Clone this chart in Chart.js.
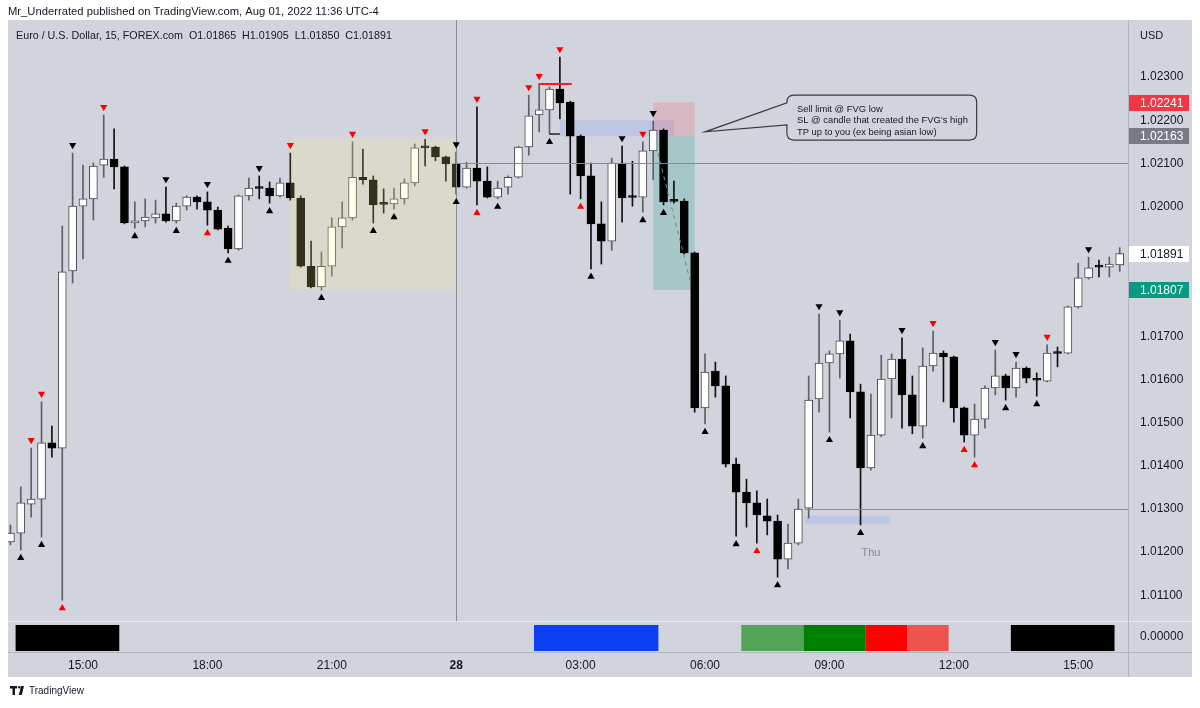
<!DOCTYPE html>
<html><head><meta charset="utf-8">
<script src="https://cdn.jsdelivr.net/npm/chart.js@4.4.0/dist/chart.umd.min.js"></script>
<style>html,body{margin:0;padding:0;background:#fff;}canvas{display:block;}</style>
</head><body>
<canvas id="c" width="1200" height="708"></canvas>
<script>
// ---------- DATA (EUR/USD, 15 min) ----------
const candleIndex = Array.from({length:108},(_, k)=>k); // 13:15 day 1 ... 16:00 day 2
const opens = [1.01224,1.01244,1.01311,1.01323,1.01453,1.01441,1.01851,1.02001,1.02018,1.02096,
1.02110,1.02092,1.01962,1.01967,1.01974,1.01983,1.01967,1.02001,1.02022,1.02011,
1.01992,1.01950,1.01902,1.02025,1.02043,1.02043,1.02025,1.02055,1.02020,1.01862,
1.01814,1.01862,1.01953,1.01974,1.02068,1.02062,1.02006,1.02006,1.02018,1.02055,
1.02138,1.02138,1.02115,1.02099,1.02045,1.02089,1.02059,1.02022,1.02045,1.02068,
1.02138,1.02212,1.02224,1.02272,1.02242,1.02163,1.02071,1.01960,1.01920,1.02101,
1.02022,1.02022,1.02129,1.02177,1.02013,1.02013,1.01893,1.01534,1.01619,1.01585,
1.01404,1.01339,1.01314,1.01284,1.01272,1.01184,1.01221,1.01302,1.01555,1.01638,
1.01659,1.01689,1.01571,1.01395,1.01471,1.01601,1.01647,1.01564,1.01492,1.01631,
1.01661,1.01652,1.01534,1.01471,1.01508,1.01580,1.01608,1.01580,1.01626,1.01599,
1.01596,1.01661,1.01661,1.01768,1.01835,1.01861,1.01860,1.01865];
const highs = [1.01263,1.01351,1.01441,1.01548,1.01492,1.01955,1.02124,1.02096,1.02101,1.02212,
1.02180,1.02094,1.02011,1.02018,1.02015,1.02045,1.02008,1.02025,1.02025,1.02034,
1.01999,1.01955,1.02027,1.02066,1.02071,1.02057,1.02066,1.02124,1.02025,1.01920,
1.01895,1.01974,1.02011,1.02150,1.02133,1.02071,1.02041,1.02043,1.02064,1.02145,
1.02156,1.02140,1.02117,1.02126,1.02103,1.02231,1.02092,1.02059,1.02071,1.02140,
1.02258,1.02284,1.02277,1.02346,1.02244,1.02166,1.02101,1.02011,1.02112,1.02140,
1.02105,1.02150,1.02198,1.02180,1.02059,1.02018,1.01895,1.01659,1.01640,1.01608,
1.01418,1.01369,1.01342,1.01323,1.01286,1.01265,1.01323,1.01608,1.01751,1.01666,
1.01737,1.01705,1.01589,1.01566,1.01656,1.01659,1.01696,1.01608,1.01673,1.01712,
1.01666,1.01654,1.01536,1.01543,1.01585,1.01668,1.01612,1.01640,1.01629,1.01615,
1.01680,1.01675,1.01770,1.01869,1.01883,1.01876,1.01883,1.01905];
const lows = [1.01217,1.01205,1.01281,1.01235,1.01420,1.01089,1.01823,1.01879,1.01969,1.02068,
1.02041,1.01960,1.01950,1.01953,1.01962,1.01964,1.01962,1.01992,1.01994,1.01957,
1.01946,1.01893,1.01899,1.02015,1.02018,1.02008,1.02022,1.02015,1.01860,1.01812,
1.01807,1.01839,1.01904,1.01969,1.02052,1.01962,1.01985,1.01994,1.02006,1.02048,
1.02094,1.02106,1.02059,1.02029,1.02043,1.02004,1.02020,1.02018,1.02029,1.02066,
1.02119,1.02173,1.02168,1.02203,1.02029,1.02018,1.01856,1.01867,1.01899,1.01964,
1.02001,1.01987,1.02062,1.02004,1.02008,1.01890,1.01524,1.01497,1.01559,1.01397,
1.01237,1.01258,1.01221,1.01240,1.01142,1.01161,1.01217,1.01279,1.01524,1.01478,
1.01603,1.01511,1.01263,1.01390,1.01467,1.01511,1.01487,1.01474,1.01464,1.01619,
1.01548,1.01501,1.01455,1.01420,1.01487,1.01564,1.01552,1.01559,1.01592,1.01561,
1.01594,1.01629,1.01659,1.01765,1.01832,1.01837,1.01837,1.01850];
const closes = [1.01244,1.01314,1.01323,1.01453,1.01441,1.01849,1.02001,1.02018,1.02094,1.02110,
1.02092,1.01962,1.01967,1.01976,1.01983,1.01967,1.02001,1.02022,1.02011,1.01992,
1.01948,1.01902,1.02025,1.02043,1.02042,1.02025,1.02055,1.02020,1.01862,1.01814,
1.01862,1.01953,1.01974,1.02068,1.02062,1.02004,1.02005,1.02018,1.02055,1.02136,
1.02136,1.02115,1.02099,1.02045,1.02089,1.02059,1.02022,1.02043,1.02068,1.02138,
1.02210,1.02224,1.02272,1.02240,1.02163,1.02071,1.01960,1.01920,1.02101,1.02020,
1.02021,1.02129,1.02177,1.02011,1.02012,1.01893,1.01534,1.01617,1.01585,1.01404,
1.01339,1.01314,1.01286,1.01272,1.01184,1.01221,1.01300,1.01552,1.01638,1.01659,
1.01689,1.01571,1.01395,1.01471,1.01601,1.01647,1.01564,1.01492,1.01631,1.01661,
1.01652,1.01534,1.01471,1.01508,1.01580,1.01608,1.01580,1.01626,1.01603,1.01598,
1.01661,1.01660,1.01768,1.01835,1.01858,1.01860,1.01867,1.01891];

const timeTickIndex  = [7,19,31,43,55,67,79,91,103];
const timeTickLabels = ['15:00','18:00','21:00','28','03:00','06:00','09:00','12:00','15:00'];
// 1.01900 and 1.01800 are hidden behind the last-price / target tags
const priceTicks = [1.011,1.012,1.013,1.014,1.015,1.016,1.017,1.020,1.021,1.022,1.023];

// fractal markers (candle indices)
const aboveBlack = [6,15,19,24,43,59,62,78,80,86,95,97,104];
const aboveRed   = [2,3,9,27,33,40,45,50,51,53,61,89,100];
const belowBlack = [1,3,12,16,21,25,30,35,37,43,47,52,56,61,63,67,70,74,79,82,88,96,99];
const belowRed   = [5,19,45,55,72,92,93];

// session blocks in lower pane (first / last candle index)
const sessionStart = [1,51,71,77,83,87,97];
const sessionEnd   = [10,62,76,82,86,90,106];
const sessionColor = ['#000000','#0a3ff2','#52a458','#008000','#ff0000','#ef5350','#000000'];

// drawings
const fvgZone   = {from:53, to:64, top:1.02200, bottom:1.02163};
const asiaBox   = {from:27, to:43, top:1.02158, bottom:1.01808};
const shortPos  = {from:62, to:66, stop:1.02241, entry:1.02163, target:1.01807};
const lowZone   = {from:76.65, to:84.85, top:1.01284, bottom:1.01265};
const midnightIdx = 43;
const rayLevels = [{from:43, price:1.02100},{from:76.65, price:1.01300}];
const highMark  = {from:51, to:54.15, price:1.02284};
const lowMark   = {from:52, to:53, price:1.02168};
const tradePath = {x1:62.46, p1:1.02124, x2:65.55, p2:1.01830};
const callout = {tipX:67, tipP:1.02173, left:74.9, right:93.2, top:1.02258, bottom:1.02154,
  baseTop:1.02240, baseBottom:1.02189,
  lines:['Sell limit @ FVG low','SL @ candle that created the FVG\u2019s high','TP up to you (ex being asian low)']};
const dayLabel = {x:83, price:1.01198, text:'Thu'};

// ---------- CHART ----------
const FONT = '"Liberation Sans", Arial, sans-serif';
const BG = '#d1d4dc';
const isUp = closes.map((c,k)=> c >= opens[k]);

function fitFont(ctx, text, width, weight){
  ctx.font = (weight||'normal')+' 100px '+FONT;
  const w = ctx.measureText(text).width;
  const size = 100*width/w;
  ctx.font = (weight||'normal')+' '+size.toFixed(2)+'px '+FONT;
}

const drawPlugin = {
  id:'tvDraw',
  beforeDraw(chart){
    const ctx = chart.ctx; ctx.save();
    ctx.fillStyle = '#ffffff'; ctx.fillRect(0,0,1200,708);
    ctx.fillStyle = BG; ctx.fillRect(8,20,1184,657);
    ctx.restore();
  },
  beforeDatasetsDraw(chart){
    const ctx = chart.ctx, xs = chart.scales.x, ys = chart.scales.y;
    const X = v=>xs.getPixelForValue(v), Y = v=>ys.getPixelForValue(v);
    ctx.save();
    ctx.fillStyle = 'rgba(120,150,255,0.22)';
    ctx.fillRect(X(fvgZone.from), Y(fvgZone.top), X(fvgZone.to)-X(fvgZone.from), Y(fvgZone.bottom)-Y(fvgZone.top));
    ctx.fillStyle = 'rgba(242,54,69,0.18)';
    ctx.fillRect(X(shortPos.from), Y(shortPos.stop), X(shortPos.to)-X(shortPos.from), Y(shortPos.entry)-Y(shortPos.stop));
    ctx.fillStyle = 'rgba(8,153,129,0.22)';
    ctx.fillRect(X(shortPos.from), Y(shortPos.entry), X(shortPos.to)-X(shortPos.from), Y(shortPos.target)-Y(shortPos.entry));
    ctx.fillStyle = 'rgba(120,150,255,0.22)';
    ctx.fillRect(X(lowZone.from), Y(lowZone.top), X(lowZone.to)-X(lowZone.from), Y(lowZone.bottom)-Y(lowZone.top));
    ctx.restore();
  },
  afterDatasetsDraw(chart){
    const ctx = chart.ctx, xs = chart.scales.x, ys = chart.scales.y, ca = chart.chartArea;
    const X = v=>xs.getPixelForValue(v), Y = v=>ys.getPixelForValue(v);
    ctx.save();
    ctx.fillStyle = 'rgba(255,240,140,0.2)';
    ctx.fillRect(X(asiaBox.from), Y(asiaBox.top), X(asiaBox.to)-X(asiaBox.from), Y(asiaBox.bottom)-Y(asiaBox.top));
    ctx.strokeStyle = '#868993'; ctx.lineWidth = 1;
    const vx = Math.round(X(midnightIdx))+0.5;
    ctx.beginPath(); ctx.moveTo(vx, 20); ctx.lineTo(vx, 622); ctx.stroke();
    rayLevels.forEach(r=>{
      const y = Math.round(Y(r.price))+0.5;
      ctx.beginPath(); ctx.moveTo(X(r.from), y); ctx.lineTo(ca.right, y); ctx.stroke();
    });
    ctx.strokeStyle = '#ff1a1a'; ctx.lineWidth = 2;
    ctx.beginPath(); ctx.moveTo(X(highMark.from), Y(highMark.price)); ctx.lineTo(X(highMark.to), Y(highMark.price)); ctx.stroke();
    ctx.strokeStyle = '#222'; ctx.lineWidth = 1.5;
    ctx.beginPath(); ctx.moveTo(X(lowMark.from), Y(lowMark.price)); ctx.lineTo(X(lowMark.to), Y(lowMark.price)); ctx.stroke();
    ctx.strokeStyle = '#7d8088'; ctx.lineWidth = 1; ctx.setLineDash([4,4]);
    ctx.beginPath(); ctx.moveTo(X(tradePath.x1), Y(tradePath.p1)); ctx.lineTo(X(tradePath.x2), Y(tradePath.p2)); ctx.stroke();
    ctx.setLineDash([]);
    const tri = (i, above, color)=>{
      const x = X(i);
      ctx.fillStyle = color; ctx.beginPath();
      if(above){ const y = Y(highs[i]) - 7; ctx.moveTo(x-3.6,y-3); ctx.lineTo(x+3.6,y-3); ctx.lineTo(x,y+3.2); }
      else { const y = Y(lows[i]) + 7; ctx.moveTo(x-3.6,y+3); ctx.lineTo(x+3.6,y+3); ctx.lineTo(x,y-3.2); }
      ctx.closePath(); ctx.fill();
    };
    aboveBlack.forEach(i=>tri(i,true,'#000'));
    aboveRed.forEach(i=>tri(i,true,'#ff0000'));
    belowBlack.forEach(i=>tri(i,false,'#000'));
    belowRed.forEach(i=>tri(i,false,'#ff0000'));
    const L = X(callout.left), R = X(callout.right), T = Y(callout.top), B = Y(callout.bottom);
    const tx = X(callout.tipX), ty = Y(callout.tipP);
    const r = 7;
    ctx.beginPath();
    ctx.moveTo(L+r, T); ctx.lineTo(R-r, T); ctx.quadraticCurveTo(R,T,R,T+r);
    ctx.lineTo(R, B-r); ctx.quadraticCurveTo(R,B,R-r,B);
    ctx.lineTo(L+r, B); ctx.quadraticCurveTo(L,B,L,B-r);
    ctx.lineTo(L, Y(callout.baseBottom)); ctx.lineTo(tx, ty); ctx.lineTo(L, Y(callout.baseTop));
    ctx.lineTo(L, T+r); ctx.quadraticCurveTo(L,T,L+r,T);
    ctx.closePath();
    ctx.fillStyle = BG; ctx.fill();
    ctx.strokeStyle = '#3a3a3a'; ctx.lineWidth = 1.2; ctx.stroke();
    ctx.fillStyle = '#131722'; ctx.textBaseline = 'middle'; ctx.textAlign = 'left';
    fitFont(ctx, callout.lines[1], 171);
    const lh = (B-T-10)/3;
    callout.lines.forEach((t,k)=> ctx.fillText(t, L+10, T+8+lh*k+lh/2));
    ctx.fillStyle = '#868993'; ctx.textAlign='center'; ctx.font = '11px '+FONT;
    ctx.fillText(dayLabel.text, X(dayLabel.x), Y(dayLabel.price));
    ctx.restore();
  },
  afterDraw(chart){
    const ctx = chart.ctx, xs = chart.scales.x, ys = chart.scales.y;
    const X = v=>xs.getPixelForValue(v), Y = v=>ys.getPixelForValue(v);
    ctx.save();
    sessionStart.forEach((s,k)=>{
      ctx.fillStyle = sessionColor[k];
      const x0 = X(s-0.5), x1 = X(sessionEnd[k]+0.5);
      ctx.fillRect(x0, 625, x1-x0, 26);
    });
    ctx.fillStyle = '#e6e8ee'; ctx.fillRect(8,621,1184,1);
    ctx.fillStyle = '#b2b5be'; ctx.fillRect(8,652,1184,1);
    ctx.fillStyle = '#b2b5be'; ctx.fillRect(1128,20,1,657);
    const tag = (price, bg, fg)=>{
      const y = Math.round(Y(price));
      ctx.fillStyle = bg; ctx.fillRect(1129, y-8, 60, 16);
      ctx.fillStyle = fg; ctx.font = '12px '+FONT; ctx.textBaseline='middle'; ctx.textAlign='left';
      ctx.fillText(price.toFixed(5), 1140, y+0.5);
    };
    tag(shortPos.stop, '#f23645', '#ffffff');
    tag(shortPos.entry, '#787b86', '#ffffff');
    tag(closes[closes.length-1], '#ffffff', '#131722');
    tag(shortPos.target, '#089981', '#ffffff');
    ctx.fillStyle = '#131722'; ctx.font='12px '+FONT; ctx.textBaseline='middle'; ctx.textAlign='left';
    ctx.fillText('0.00000', 1140, 637);
    ctx.font = '11px '+FONT; ctx.fillText('USD', 1140, 36);
    fitFont(ctx, 'Mr_Underrated published on TradingView.com, Aug 01, 2022 11:36 UTC-4', 371);
    ctx.fillText('Mr_Underrated published on TradingView.com, Aug 01, 2022 11:36 UTC-4', 8, 12);
    fitFont(ctx, 'Euro / U.S. Dollar, 15, FOREX.com  O1.01865  H1.01905  L1.01850  C1.01891', 376);
    ctx.fillText('Euro / U.S. Dollar, 15, FOREX.com  O1.01865  H1.01905  L1.01850  C1.01891', 16, 36);
    ctx.fillStyle = '#131722';
    ctx.fillRect(10,686,7,2.5); ctx.fillRect(12.5,686,2.5,9);
    ctx.beginPath(); ctx.arc(19.2,687.3,1.3,0,Math.PI*2); ctx.fill();
    ctx.beginPath(); ctx.moveTo(21,686); ctx.lineTo(24,686); ctx.lineTo(21.8,695); ctx.lineTo(18.8,695); ctx.closePath(); ctx.fill();
    fitFont(ctx, 'TradingView', 55);
    ctx.fillText('TradingView', 29, 691);
    ctx.restore();
  }
};

new Chart(document.getElementById('c'), {
  type:'bar',
  data:{ datasets:[
    { label:'wick', order:2, grouped:false, barThickness:1,
      data: candleIndex.map((i,k)=>({x:i, y:[lows[k], highs[k]]})),
      backgroundColor: isUp.map(u=> u ? '#5f6066' : '#111111'), borderWidth:0 },
    { label:'body', order:1, grouped:false, barThickness:8, minBarLength:2,
      data: candleIndex.map((i,k)=>({x:i, y:[opens[k], closes[k]]})),
      backgroundColor: isUp.map(u=> u ? '#ffffff' : '#000000'),
      borderColor: isUp.map(u=> u ? '#45464c' : '#000000'),
      borderWidth:1, borderSkipped:false }
  ]},
  options:{
    responsive:false, animation:false, devicePixelRatio:1, events:[],
    layout:{padding:{left:8, right:8, top:20, bottom:0}},
    plugins:{legend:{display:false}, tooltip:{enabled:false}},
    scales:{
      x:{ type:'linear', offset:false, min:-0.234, max:107.8, position:'bottom',
        grid:{display:false, drawTicks:false}, border:{display:false},
        afterFit(s){ s.height = 88; },
        afterBuildTicks(s){ s.ticks = timeTickIndex.map(v=>({value:v})); },
        ticks:{ autoSkip:false, maxRotation:0, padding:38, color:'#131722',
          font:(c)=>({family:FONT, size:12, weight: c.index===3 ? 'bold':'normal'}),
          callback:(v)=>{ const k = timeTickIndex.indexOf(v); return k>=0 ? timeTickLabels[k] : ''; } } },
      y:{ type:'linear', position:'right', min:1.01043, max:1.02432,
        grid:{display:false, drawTicks:false}, border:{display:false},
        afterFit(s){ s.width = 64; },
        afterBuildTicks(s){ s.ticks = priceTicks.map(v=>({value:v})); },
        ticks:{ padding:12, color:'#131722', font:{family:FONT, size:12}, callback:(v)=>Number(v).toFixed(5) } }
    }
  },
  plugins:[drawPlugin]
});
</script>
</body></html>
